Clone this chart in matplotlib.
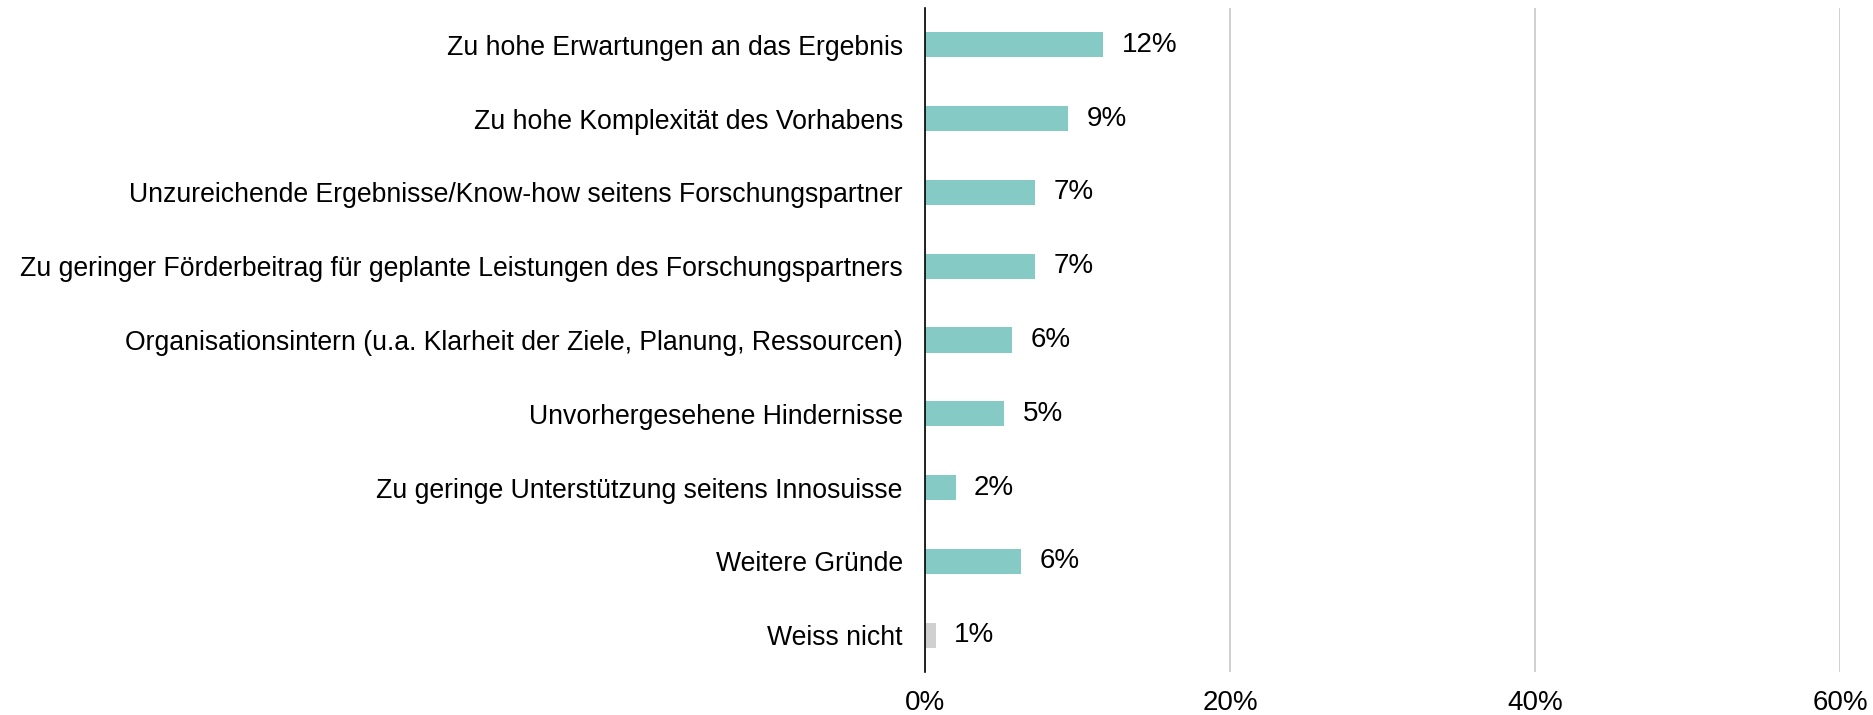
import matplotlib
matplotlib.use("Agg")
import matplotlib.pyplot as plt
from matplotlib.ticker import FuncFormatter

# Gründe (von oben nach unten) und Anteile in %
gruende = [
    "Zu hohe Erwartungen an das Ergebnis",
    "Zu hohe Komplexität des Vorhabens",
    "Unzureichende Ergebnisse/Know-how seitens Forschungspartner",
    "Zu geringer Förderbeitrag für geplante Leistungen des Forschungspartners",
    "Organisationsintern (u.a. Klarheit der Ziele, Planung, Ressourcen)",
    "Unvorhergesehene Hindernisse",
    "Zu geringe Unterstützung seitens Innosuisse",
    "Weitere Gründe",
    "Weiss nicht",
]
anteile = [11.7, 9.4, 7.2, 7.2, 5.7, 5.2, 2.0, 6.3, 0.7]
x_ticks = [0, 20, 40, 60]

plt.rcParams["font.family"] = ["Liberation Sans", "DejaVu Sans"]
plt.rcParams["font.size"] = 19.2

farben = ["#85cac5"] * 8 + ["#d0d0d0"]

fig = plt.figure(figsize=(18.73, 7.15), dpi=100)
ax = fig.add_axes([0.4939, 0.0601, 0.9824 - 0.4939, 0.9888 - 0.0601])

y = list(range(len(gruende)))
ax.barh(y, anteile, height=0.34, color=farben, zorder=3)
for yi, v in zip(y, anteile):
    ax.text(v + 1.2, yi, f"{v:.0f}%", va="center", ha="left", fontsize=20)

ax.set_yticks(y)
ax.set_yticklabels(gruende)
ax.set_ylim(len(gruende) - 0.5, -0.5)
ax.set_xlim(0, 60)
ax.set_xticks(x_ticks)
ax.xaxis.set_major_formatter(FuncFormatter(lambda v, p: f"{v:.0f}%"))
ax.tick_params(axis="both", length=0)
ax.tick_params(axis="y", pad=16)
ax.tick_params(axis="x", pad=13, labelsize=20)

ax.grid(axis="x", color="#c8c8c8", linewidth=1.2, zorder=0)
for s in ["top", "right", "bottom"]:
    ax.spines[s].set_visible(False)
ax.spines["left"].set_color("black")
ax.spines["left"].set_linewidth(1.2)
ax.spines["left"].set_zorder(4)

fig.savefig("out.png", dpi=100)
